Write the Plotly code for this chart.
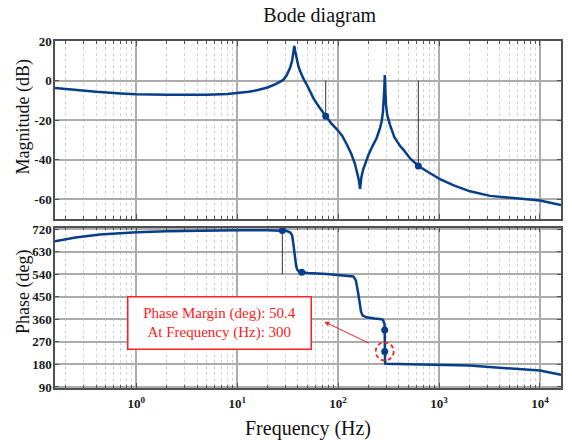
import numpy as np
import plotly.graph_objects as go

# ---------------- data ----------------
mag_freq = [0.156, 0.25, 0.4, 0.7, 1, 2, 3, 5, 8, 10, 13, 16, 20, 24, 28.6, 31, 33.4, 35, 36, 36.8,
            37.8, 38.9, 40.5, 41.9, 45.2, 50, 56.8, 65, 75.3, 85, 96.8, 110, 121.7, 135, 147, 155,
            160, 165, 170, 177, 185, 200, 220, 241.5, 260, 270.5, 278, 283, 287, 290, 293, 298,
            307, 326.6, 360, 410, 443, 520, 624, 750, 1023, 1400, 2028, 3200, 5000, 7500, 10000, 16200]
mag_db = [-3.8, -4.8, -5.7, -6.5, -6.9, -7.2, -7.3, -7.2, -6.8, -6.4, -5.7, -4.8, -3.5, -1.8, 0.3, 2.8,
          6.5, 10.0, 14.0, 17.5, 14.0, 10.5, 7.0, 5.0, 1.1, -3.0, -8.9, -13.5, -18.0, -21.5, -24.5,
          -28.0, -32.2, -37.0, -42.2, -46.5, -50.0, -54.7, -49.0, -45.0, -42.2, -37.5, -33.0, -28.9,
          -24.0, -20.5, -16.0, -11.0, -4.0, 2.8, -5.0, -12.0, -17.5, -22.4, -28.5, -33.0, -34.9,
          -39.5, -43.2, -45.8, -49.9, -53.0, -56.0, -58.3, -59.3, -60.0, -60.6, -62.9]

ph_freq = [0.156, 0.25, 0.436, 0.7, 1, 2, 4.3, 10, 20, 28, 31, 33.4, 35, 36, 36.7, 37.4, 38.3, 39.4, 41,
           43.6, 50, 77, 120, 141.5, 150, 155, 158, 162, 165, 168.6, 175, 192, 230, 270, 280, 285,
           288.5, 289.3, 289.6, 290, 292, 300, 400, 1000, 2000, 3400, 6000, 10000, 16200]
ph_deg = [671, 686, 698, 704, 707, 711, 714, 715, 715, 714, 712, 707, 695, 662, 630, 598, 575, 557, 551,
          548, 545, 541, 535, 531, 515, 490, 465, 437, 410, 390, 375, 368, 363, 360, 356, 350,
          340, 317, 232, 190, 184, 183, 182, 180, 176, 169, 161, 156, 139]

# margin markers
gm_freq = [75.3, 624]
gm_db = [-18.0, -43.2]
ph_mark_freq = [0.156, 28, 43.6, 289.6, 289.6]
ph_mark_deg = [671, 714, 548, 317, 232]
pm_line_freq = [28]
pm_line_deg = [714, 540]

pm_value = 50.4
pm_freq_label = 300
circle_freq, circle_deg = 289.6, 232

x_ticks = [1, 10, 100, 1000, 10000]
x_ticktext = ["10<sup>0</sup>", "10<sup>1</sup>", "10<sup>2</sup>", "10<sup>3</sup>", "10<sup>4</sup>"]
mag_ticks = [-60, -40, -20, 0, 20]
ph_ticks = [90, 180, 270, 360, 450, 540, 630, 720]

# ---------------- style ----------------
BLUE = "#073e8c"
SERIF = "Liberation Serif"
FRAME = "#505050"
GRID = "#acacac"
MINOR = "#d2d2d2"
RED = "#ff2020"

minor_vals = [m * 10.0 ** e for e in range(-1, 5) for m in range(2, 10)]


def bold(labels):
    return [f"<b>{t}</b>" for t in labels]


fig = go.Figure()

fig.add_trace(go.Scatter(x=mag_freq, y=mag_db, mode="lines", line=dict(color=BLUE, width=2.5),
                         xaxis="x", yaxis="y", showlegend=False))
for f, d in zip(gm_freq, gm_db):
    fig.add_trace(go.Scatter(x=[f, f], y=[0, d], mode="lines", line=dict(color="#333", width=1),
                             xaxis="x", yaxis="y", showlegend=False))
fig.add_trace(go.Scatter(x=gm_freq, y=gm_db, mode="markers", marker=dict(color=BLUE, size=7),
                         xaxis="x", yaxis="y", showlegend=False))

fig.add_trace(go.Scatter(x=[pm_line_freq[0], pm_line_freq[0]], y=pm_line_deg, mode="lines",
                         line=dict(color="#333", width=1), xaxis="x2", yaxis="y2", showlegend=False))
fig.add_trace(go.Scatter(x=ph_freq, y=ph_deg, mode="lines", line=dict(color=BLUE, width=2.5),
                         xaxis="x2", yaxis="y2", showlegend=False))
fig.add_trace(go.Scatter(x=ph_mark_freq, y=ph_mark_deg, mode="markers", marker=dict(color=BLUE, size=7),
                         xaxis="x2", yaxis="y2", showlegend=False, cliponaxis=False))

xr = [-0.806, 4.209]
tickfont = dict(family=SERIF, size=13, color="#1a1a1a")
common_x = dict(type="log", range=xr, showgrid=True, gridcolor=GRID, gridwidth=1.5,
                ticks="inside", ticklen=5, tickcolor=FRAME, showline=True, linecolor=FRAME,
                linewidth=1.5, mirror="allticks", zeroline=False, automargin=False,
                tickvals=x_ticks, ticktext=bold(x_ticktext), tickfont=tickfont,
                minor=dict(tickmode="array", tickvals=minor_vals, ticks="inside", ticklen=3,
                           tickcolor=FRAME, showgrid=True, gridcolor=MINOR, griddash="dot", gridwidth=1))
common_y = dict(showgrid=True, gridcolor=GRID, gridwidth=1.5, ticks="inside", ticklen=4,
                tickcolor=FRAME, showline=True, linecolor=FRAME, linewidth=1.5, mirror="allticks",
                zeroline=False, tickfont=tickfont, ticklabelstandoff=-1, automargin=False)

fig.update_layout(
    width=572, height=440,
    margin=dict(l=55, r=11, t=41, b=52),
    plot_bgcolor="white", paper_bgcolor="white",
    title=dict(text="Bode diagram", x=0.559, xanchor="center", y=0.966, yanchor="middle",
               yref="container", font=dict(family=SERIF, size=20, color="#111")),
    xaxis=dict(**common_x, domain=[0, 1], anchor="y", showticklabels=False),
    xaxis2=dict(**common_x, domain=[0, 1], anchor="y2", ticklabelstandoff=3,
                title=dict(text="Frequency (Hz)", font=dict(family=SERIF, size=20, color="#111"),
                           standoff=14)),
    yaxis=dict(**common_y, domain=[0.487, 1], anchor="x", range=[-70, 20],
               tickvals=mag_ticks, ticktext=bold(mag_ticks)),
    yaxis2=dict(**common_y, domain=[0, 0.4625], anchor="x2", range=[86, 726],
                tickvals=ph_ticks, ticktext=bold(ph_ticks)),
)

# y-axis titles as positioned annotations
fig.add_annotation(xref="paper", yref="paper", x=-32 / 506, y=(388 - 117.5) / 347,
                   text="Magnitude (dB)", textangle=-90, showarrow=False,
                   xanchor="center", yanchor="middle",
                   font=dict(family=SERIF, size=18, color="#111"))
fig.add_annotation(xref="paper", yref="paper", x=-32 / 506, y=(388 - 292) / 347,
                   text="Phase (deg)", textangle=-90, showarrow=False,
                   xanchor="center", yanchor="middle",
                   font=dict(family=SERIF, size=18, color="#111"))

# reference dash-dot lines
for yref, val in [("y", 0), ("y2", 540), ("y2", 180)]:
    xref = "x domain" if yref == "y" else "x2 domain"
    fig.add_shape(type="line", xref=xref, x0=0, x1=1, yref=yref, y0=val, y1=val,
                  line=dict(color="#5a5a5a", width=1.3, dash="dashdot"), layer="below")

# red dashed circle around phase-margin point (radius ~9 px)
decade_px = 506 / (xr[1] - xr[0])
deg_px = 159.5 / (726 - 86)
rx = 9 / decade_px
ry = 9 / deg_px
lc = np.log10(circle_freq)
fig.add_shape(type="circle", xref="x2", yref="y2",
              x0=10 ** (lc - rx), x1=10 ** (lc + rx), y0=circle_deg - ry, y1=circle_deg + ry,
              line=dict(color=RED, width=1.8, dash="4px,3px"))

# text box
fig.add_annotation(xref="x2", yref="y2", x=np.log10(6.67), y=345,
                   text=f"Phase Margin (deg): {pm_value}<br>At Frequency (Hz): {pm_freq_label}",
                   showarrow=False, font=dict(family=SERIF, size=15, color="#ff1a1a"),
                   bgcolor="white", bordercolor=RED, borderwidth=1.5, borderpad=7,
                   width=168, align="center")
# arrow toward the text box
fig.add_annotation(xref="x2", yref="y2", x=np.log10(73.0), y=350, text="", showarrow=True,
                   ax=46, ay=22, arrowhead=2, arrowsize=1, arrowwidth=1, arrowcolor=RED,
                   standoff=0)

fig.write_html("out.html")
